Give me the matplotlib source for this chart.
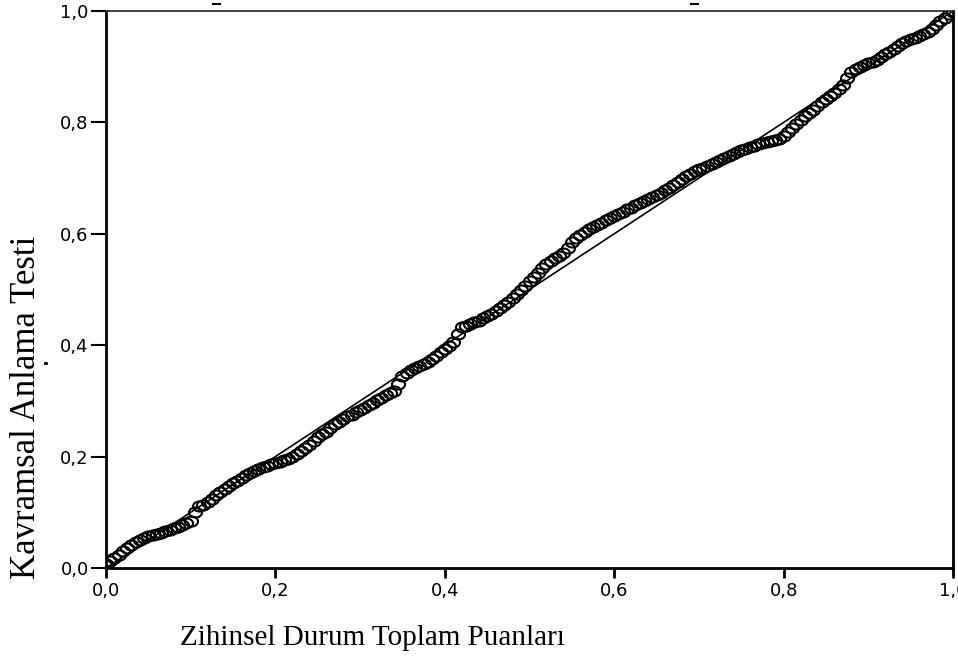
import matplotlib
matplotlib.use("Agg")
import matplotlib.pyplot as plt
from matplotlib.path import Path
from matplotlib.transforms import Affine2D
from matplotlib.lines import Line2D

# Expected cumulative probability (x) vs observed cumulative probability (y)
expected_prob_a = [0.00, 0.01, 0.02, 0.03, 0.04, 0.05, 0.06, 0.07, 0.08, 0.09,
                   0.10, 0.11, 0.12, 0.13, 0.14, 0.15, 0.16, 0.17, 0.18, 0.19,
                   0.20, 0.21, 0.22, 0.23, 0.24, 0.25, 0.26, 0.27, 0.28, 0.29,
                   0.30, 0.31, 0.32, 0.33, 0.34, 0.35, 0.36, 0.37, 0.38, 0.39,
                   0.40, 0.41, 0.42, 0.43, 0.44, 0.45, 0.46, 0.47, 0.48, 0.49,
                   0.50, 0.51, 0.52, 0.53, 0.54, 0.55, 0.56, 0.57, 0.58, 0.59,
                   0.60, 0.61, 0.62, 0.63, 0.64, 0.65, 0.66, 0.67, 0.68, 0.69,
                   0.70, 0.71, 0.72, 0.73, 0.74, 0.75, 0.76, 0.77, 0.78, 0.79,
                   0.80, 0.81, 0.82, 0.83, 0.84, 0.85, 0.86, 0.87, 0.88, 0.89,
                   0.90, 0.91, 0.92, 0.93, 0.94, 0.95, 0.96, 0.97, 0.98, 0.99, 1.00]
observed_prob_a = [0.008, 0.018, 0.030, 0.042, 0.050, 0.057, 0.061, 0.066, 0.072, 0.077,
                   0.085, 0.112, 0.118, 0.131, 0.142, 0.152, 0.162, 0.171, 0.178, 0.183,
                   0.188, 0.193, 0.199, 0.210, 0.220, 0.235, 0.245, 0.258, 0.268, 0.275,
                   0.284, 0.292, 0.302, 0.310, 0.318, 0.345, 0.355, 0.363, 0.370, 0.380,
                   0.393, 0.405, 0.432, 0.438, 0.444, 0.452, 0.461, 0.472, 0.485, 0.500,
                   0.515, 0.530, 0.545, 0.556, 0.566, 0.586, 0.598, 0.608, 0.616, 0.624,
                   0.632, 0.640, 0.647, 0.655, 0.662, 0.670, 0.678, 0.688, 0.698, 0.708,
                   0.716, 0.722, 0.729, 0.736, 0.743, 0.750, 0.756, 0.761, 0.765, 0.768,
                   0.775, 0.790, 0.805, 0.817, 0.830, 0.842, 0.853, 0.868, 0.890, 0.900,
                   0.906, 0.912, 0.922, 0.932, 0.942, 0.950, 0.955, 0.962, 0.975, 0.988, 0.998]
expected_prob_b = [0.005, 0.015, 0.025, 0.035, 0.045, 0.055, 0.065, 0.075, 0.085, 0.095,
                   0.105, 0.115, 0.125, 0.135, 0.145, 0.155, 0.165, 0.175, 0.185, 0.195,
                   0.205, 0.215, 0.225, 0.235, 0.245, 0.255, 0.265, 0.275, 0.285, 0.295,
                   0.305, 0.315, 0.325, 0.335, 0.345, 0.355, 0.365, 0.375, 0.385, 0.395,
                   0.405, 0.415, 0.425, 0.435, 0.445, 0.455, 0.465, 0.475, 0.485, 0.495,
                   0.505, 0.515, 0.525, 0.535, 0.545, 0.555, 0.565, 0.575, 0.585, 0.595,
                   0.605, 0.615, 0.625, 0.635, 0.645, 0.655, 0.665, 0.675, 0.685, 0.695,
                   0.705, 0.715, 0.725, 0.735, 0.745, 0.755, 0.765, 0.775, 0.785, 0.795,
                   0.805, 0.815, 0.825, 0.835, 0.845, 0.855, 0.865, 0.875, 0.885, 0.895,
                   0.905, 0.915, 0.925, 0.935, 0.945, 0.955, 0.965, 0.975, 0.985, 0.995]
observed_prob_b = [0.012, 0.024, 0.036, 0.046, 0.054, 0.059, 0.063, 0.069, 0.074, 0.080,
                   0.100, 0.114, 0.124, 0.137, 0.147, 0.157, 0.167, 0.175, 0.181, 0.186,
                   0.190, 0.196, 0.204, 0.215, 0.228, 0.240, 0.252, 0.263, 0.272, 0.280,
                   0.288, 0.297, 0.306, 0.314, 0.330, 0.350, 0.359, 0.366, 0.375, 0.387,
                   0.398, 0.420, 0.435, 0.441, 0.448, 0.456, 0.466, 0.478, 0.492, 0.507,
                   0.523, 0.538, 0.551, 0.561, 0.575, 0.592, 0.603, 0.612, 0.620, 0.628,
                   0.636, 0.644, 0.651, 0.658, 0.666, 0.674, 0.683, 0.693, 0.703, 0.712,
                   0.719, 0.725, 0.732, 0.739, 0.747, 0.753, 0.758, 0.763, 0.767, 0.771,
                   0.782, 0.798, 0.811, 0.823, 0.836, 0.848, 0.860, 0.880, 0.896, 0.903,
                   0.909, 0.917, 0.927, 0.937, 0.946, 0.952, 0.958, 0.968, 0.982, 0.994]

tick_values = [0.0, 0.2, 0.4, 0.6, 0.8, 1.0]
tick_labels = ["0,0", "0,2", "0,4", "0,6", "0,8", "1,0"]
x_label = "Zihinsel Durum Toplam Puanları"
y_label = "Kavramsal Anlama Testi"

expected_prob = expected_prob_a + expected_prob_b
observed_prob = observed_prob_a + observed_prob_b

fig = plt.figure(figsize=(9.58, 6.61), dpi=100)
ax = fig.add_axes([106/958, 1 - 568/661, (953-106)/958, (568-11)/661])

# elliptical open marker
ellipse = Path.unit_circle().transformed(Affine2D().scale(1.3, 1.0))

ax.plot([0, 1], [0, 1], color="black", lw=1.2, zorder=2)
ax.plot(expected_prob, observed_prob, linestyle="none", marker=ellipse,
        markersize=9.4, markerfacecolor="none", markeredgecolor="black",
        markeredgewidth=1.5, zorder=3)

ax.set_xlim(0, 1)
ax.set_ylim(0, 1)
ax.set_xticks(tick_values)
ax.set_xticklabels(tick_labels)
ax.set_yticks(tick_values)
ax.set_yticklabels(tick_labels)

for side in ["left", "bottom", "right"]:
    ax.spines[side].set_linewidth(2.0)
    ax.spines[side].set_color("black")
ax.spines["top"].set_linewidth(1.3)
ax.spines["top"].set_color("#333333")

ax.tick_params(axis="y", direction="out", length=11, width=1.5, pad=1.5,
               labelsize=13, colors="black")
ax.tick_params(axis="x", direction="out", length=7.2, width=2.0, pad=3,
               labelsize=13, colors="black")
for lab in ax.get_xticklabels() + ax.get_yticklabels():
    lab.set_family("DejaVu Sans")
    lab.set_clip_on(False)

fig.text(372/958, 1 - 638/661, x_label, family="Liberation Serif",
         fontsize=21, ha="center", va="center")
fig.text(27/958, 1 - 407/661, y_label, family="Liberation Serif",
         fontsize=25, ha="center", va="center", rotation=90)

# small stray marks present in the original image
fig.add_artist(Line2D([213/958, 220/958], [1 - 4/661, 1 - 4/661],
                      transform=fig.transFigure, color="black", lw=1.5))
fig.add_artist(Line2D([691/958, 698/958], [1 - 4/661, 1 - 4/661],
                      transform=fig.transFigure, color="black", lw=1.5))
fig.add_artist(Line2D([44.5/958, 45.5/958], [1 - 363/661, 1 - 363/661],
                      transform=fig.transFigure, color="black", lw=2))

fig.savefig("out.png", dpi=100)
